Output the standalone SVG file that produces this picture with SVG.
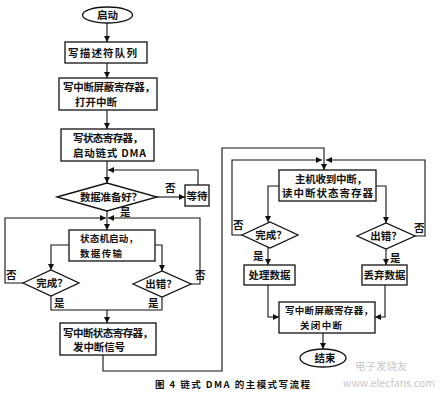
<svg xmlns="http://www.w3.org/2000/svg" width="446" height="402" viewBox="0 0 446 402">
<defs>
<marker id="ah" markerUnits="userSpaceOnUse" markerWidth="6" markerHeight="6" refX="6" refY="3" orient="auto">
<path d="M0,0 L6,3 L0,6 z" fill="#111"/>
</marker>
<style>
.b{fill:#fff;stroke:#111;stroke-width:1.3}
.c{fill:none;stroke:#111;stroke-width:1.1}
.a{marker-end:url(#ah)}
text{font-family:"Noto Sans CJK SC","Liberation Sans",sans-serif;font-size:10.5px;font-weight:bold;fill:#111}
.m{text-anchor:middle}
.s{font-size:9.5px}
.cap{font-size:9.5px}
.wm{fill:#c8c8c8;font-weight:normal}
</style>
</defs>
<rect width="446" height="402" fill="#fff"/>
<g id="connectors">
<path class="c a" d="M107,23 V42"/>
<path class="c a" d="M107,63 V78"/>
<path class="c a" d="M107,110 V129"/>
<path class="c a" d="M107,161 V183"/>
<path class="c a" d="M198,185 V170 H108"/>
<path class="c a" d="M157,197 H185"/>
<path class="c a" d="M107,211 V230"/>
<path class="c a" d="M69,245 H51 V270"/>
<path class="c a" d="M155,245 H162 V271"/>
<path class="c a" d="M23,283 H5 V218 H106"/>
<path class="c a" d="M190,284 H200 V218 H108"/>
<path class="c a" d="M51,296 V310 H107 V323"/>
<path class="c" d="M162,297 V310 H107"/>
<path class="c a" d="M103,355 V371 H222 V148 H324 V170"/>
<path class="c a" d="M279,186 H268 V222"/>
<path class="c a" d="M376,186 H386 V223"/>
<path class="c a" d="M242,235 H232 V160 H322"/>
<path class="c a" d="M414,236 H425 V160 H326"/>
<path class="c a" d="M268,247 V265"/>
<path class="c a" d="M386,248 V265"/>
<path class="c a" d="M268,285 V317 H279"/>
<path class="c a" d="M385,285 V317 H375"/>
<path class="c a" d="M323,333 V349"/>
</g>
<g id="start"><ellipse class="b" cx="107.5" cy="15" rx="25" ry="8"/><text class="m" x="107.5" y="19">启动</text></g>
<g id="n1"><rect class="b" x="65" y="42" width="82" height="21"/><text x="68" y="56.5" textLength="69" lengthAdjust="spacing">写描述符队列</text></g>
<g id="n2"><rect class="b" x="59" y="78" width="98" height="32"/><text x="63" y="91" textLength="92" lengthAdjust="spacing">写中断屏蔽寄存器，</text><text x="75" y="106" textLength="42" lengthAdjust="spacing">打开中断</text></g>
<g id="n3"><rect class="b" x="61" y="129" width="93" height="32"/><text x="73" y="142" textLength="70" lengthAdjust="spacing">写状态寄存器，</text><text x="73" y="157" textLength="73" lengthAdjust="spacing">启动链式 DMA</text></g>
<g id="d1"><polygon class="b" points="57,197 107,183 157,197 107,211"/><text x="80" y="201" textLength="62" lengthAdjust="spacing">数据准备好？</text></g>
<g id="wait"><rect class="b" x="185" y="185" width="24" height="21"/><text class="m" x="197" y="199.5">等待</text></g>
<g id="n4"><rect class="b" x="69" y="230" width="86" height="31"/><text class="s" x="80" y="242" textLength="58" lengthAdjust="spacing">状态机启动，</text><text class="s" x="80" y="256.5" textLength="42" lengthAdjust="spacing">数据传输</text></g>
<g id="d2"><polygon class="b" points="23,283 51,270 79,283 51,296"/><text class="m" x="52" y="287">完成？</text></g>
<g id="d3"><polygon class="b" points="133,284 162,271 191,284 162,297"/><text class="m" x="161" y="288">出错？</text></g>
<g id="n5"><rect class="b" x="60" y="323" width="96" height="32"/><text x="63" y="336.5" textLength="90" lengthAdjust="spacing">写中断状态寄存器，</text><text x="73" y="351" textLength="52" lengthAdjust="spacing">发中断信号</text></g>
<g id="n6"><rect class="b" x="279" y="170" width="97" height="31"/><text x="295" y="183" textLength="72" lengthAdjust="spacing">主机收到中断，</text><text x="282" y="197" textLength="91" lengthAdjust="spacing">读中断状态寄存器</text></g>
<g id="d4"><polygon class="b" points="242,235 270,222 298,235 270,248"/><text class="m" x="271" y="239">完成？</text></g>
<g id="d5"><polygon class="b" points="357,236 386,223 415,236 386,249"/><text class="m" x="386" y="240">出错？</text></g>
<g id="n7"><rect class="b" x="244" y="265" width="51" height="20"/><text class="m" x="269.5" y="279">处理数据</text></g>
<g id="n8"><rect class="b" x="362" y="265" width="45" height="20"/><text class="m" x="384.5" y="279">丢弃数据</text></g>
<g id="n9"><rect class="b" x="279" y="302" width="96" height="31"/><text class="s" x="285" y="314" textLength="88" lengthAdjust="spacing">写中断屏蔽寄存器，</text><text class="s" x="300" y="328.5" textLength="42" lengthAdjust="spacing">关闭中断</text></g>
<g id="end"><ellipse class="b" cx="323" cy="358" rx="23" ry="9"/><text class="m" x="325" y="362">结束</text></g>
<g id="labels">
<text x="165" y="192">否</text>
<text x="120" y="216">是</text>
<text x="6" y="279">否</text>
<text x="195" y="279">否</text>
<text x="54" y="307">是</text>
<text x="148" y="307">是</text>
<text x="233" y="229">否</text>
<text x="414" y="232">否</text>
<text x="253" y="260">是</text>
<text x="390" y="262">是</text>
</g>
<text class="cap" x="155" y="388" textLength="155" lengthAdjust="spacing">图 4 链式 DMA 的主模式写流程</text>
<g id="watermark"><text class="wm" x="355" y="370" font-size="16">电子发烧友</text><text class="wm" x="343" y="387" font-size="9">www.elecfans.com</text></g>
</svg>
